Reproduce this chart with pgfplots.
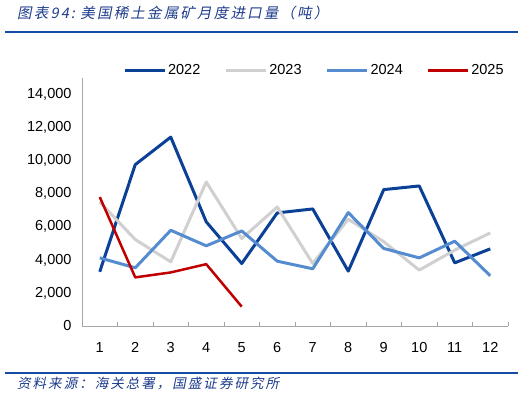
\documentclass[border=0pt]{standalone}
\usepackage{fontspec}
\setmainfont{Liberation Sans}
\newfontfamily\cjk[FakeSlant=0.2,LetterSpace=15]{Noto Sans CJK SC}
\usepackage{pgfplots}
\pgfplotsset{compat=1.18}
\definecolor{cA}{RGB}{10,65,150}
\definecolor{cB}{RGB}{208,208,208}
\definecolor{cC}{RGB}{85,140,208}
\definecolor{cD}{RGB}{192,0,0}
\definecolor{titleblue}{RGB}{30,60,140}
\definecolor{rule}{RGB}{20,75,165}
\definecolor{axgray}{RGB}{166,166,166}
\begin{document}
\begin{tikzpicture}
\path[use as bounding box] (0,0) rectangle (525pt,399pt);
\node[anchor=west,inner sep=0pt,text=titleblue,font=\cjk\fontsize{14.5}{16}\selectfont] at (17pt,386pt) {图表94:\ 美国稀土金属矿月度进口量（吨）};
\draw[rule,line width=2pt] (5pt,367pt) -- (518pt,367pt);
\draw[rule,line width=1.5pt] (5pt,26pt) -- (518pt,26pt);
\node[anchor=west,inner sep=0pt,text=titleblue,font=\cjk\fontsize{13.5}{15}\selectfont] at (17pt,15pt) {资料来源：海关总署，国盛证券研究所};
\begin{axis}[
  at={(82pt,73pt)}, anchor=south west,
  scale only axis, width=426pt, height=248pt,
  xmin=0.5, xmax=12.5, ymin=0, ymax=15000,
  axis x line*=bottom, axis y line*=left,
  axis line style={axgray, line width=0.8pt},
  xtick={1,...,12},
  minor xtick={1.5,2.5,...,11.5,12.5},
  major x tick style={draw=none},
  minor x tick style={axgray, line width=0.8pt},
  minor tick length=4pt,
  tick align=inside,
  ytick={0,2000,...,14000},
  major y tick style={draw=none},
  scaled y ticks=false,
  /pgf/number format/.cd, 1000 sep={,}, assume math mode=true, /pgfplots/.cd,
  tick label style={font=\fontsize{14.5}{16}\selectfont, text=black},
  yticklabel style={xshift=-7pt},
  xticklabel style={yshift=-13pt},
  legend columns=4,
  legend style={draw=none, fill=none, at={(0.096,1.03)}, anchor=west, inner sep=0pt,
    font=\fontsize{14.5}{16}\selectfont,
    /tikz/every even column/.append style={column sep=22pt}},
  legend image code/.code={\draw[#1] (0pt,0pt) -- (40pt,0pt);},
  every axis plot/.append style={line width=3pt, line join=round},
]
\addplot[cA] coordinates {(1,3280) (2,9760) (3,11425) (4,6300) (5,3780) (6,6840) (7,7080) (8,3320) (9,8250) (10,8470) (11,3820) (12,4665)};
\addplot[cB] coordinates {(1,7500) (2,5230) (3,3880) (4,8710) (5,5290) (6,7200) (7,3780) (8,6460) (9,5100) (10,3380) (11,4590) (12,5630)};
\addplot[cC] coordinates {(1,4120) (2,3520) (3,5790) (4,4850) (5,5750) (6,3920) (7,3460) (8,6860) (9,4690) (10,4120) (11,5130) (12,3040)};
\addplot[cD, line width=2.5pt] coordinates {(1,7800) (2,2940) (3,3240) (4,3740) (5,1170)};
\legend{2022,2023,2024,2025}
\end{axis}
\end{tikzpicture}
\end{document}
